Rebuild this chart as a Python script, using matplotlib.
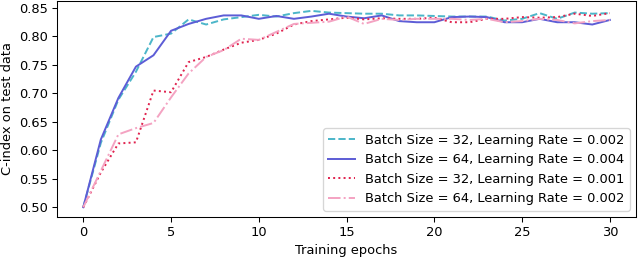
import numpy as np
import matplotlib
matplotlib.use("Agg")
import matplotlib.pyplot as plt

epochs = np.arange(31)

# C-index per epoch
bs32_lr002 = [0.500, 0.613, 0.689, 0.738, 0.799, 0.805, 0.830, 0.821, 0.830, 0.834,
              0.838, 0.835, 0.841, 0.845, 0.842, 0.841, 0.840, 0.840, 0.837, 0.837,
              0.836, 0.835, 0.835, 0.835, 0.828, 0.831, 0.841, 0.831, 0.842, 0.840,
              0.841]
bs64_lr004 = [0.500, 0.619, 0.692, 0.747, 0.767, 0.810, 0.822, 0.831, 0.837, 0.837,
              0.831, 0.836, 0.831, 0.835, 0.840, 0.835, 0.832, 0.837, 0.827, 0.825,
              0.825, 0.834, 0.835, 0.834, 0.825, 0.825, 0.831, 0.825, 0.825, 0.821,
              0.829]
bs32_lr001 = [0.500, 0.561, 0.612, 0.614, 0.705, 0.702, 0.755, 0.764, 0.777, 0.789,
              0.794, 0.805, 0.821, 0.827, 0.830, 0.833, 0.830, 0.832, 0.831, 0.831,
              0.833, 0.825, 0.825, 0.831, 0.831, 0.834, 0.833, 0.834, 0.840, 0.836,
              0.841]
bs64_lr002 = [0.500, 0.564, 0.628, 0.639, 0.648, 0.693, 0.735, 0.764, 0.776, 0.796,
              0.794, 0.808, 0.822, 0.824, 0.826, 0.835, 0.822, 0.831, 0.829, 0.831,
              0.831, 0.831, 0.829, 0.831, 0.825, 0.827, 0.831, 0.829, 0.823, 0.827,
              0.829]

labels = ["Batch Size = 32, Learning Rate = 0.002",
          "Batch Size = 64, Learning Rate = 0.004",
          "Batch Size = 32, Learning Rate = 0.001",
          "Batch Size = 64, Learning Rate = 0.002"]

# reference looks like a default figure rendered slightly smaller -> dpi 94
DPI = 94
fig, ax = plt.subplots(figsize=(640 / DPI, 259 / DPI), dpi=DPI)
fig.subplots_adjust(left=0.089, right=0.994, top=0.996, bottom=0.162)

ax.plot(epochs, bs32_lr002, color="#4cb6c9", linestyle="--", label=labels[0])
ax.plot(epochs, bs64_lr004, color="#5d5dd6", linestyle="-", label=labels[1])
ax.plot(epochs, bs32_lr001, color="#e0224e", linestyle=":", label=labels[2])
ax.plot(epochs, bs64_lr002, color="#f4a3c2", linestyle="-.", label=labels[3])

ax.set_xticks([0, 5, 10, 15, 20, 25, 30])
ax.set_yticks([0.50, 0.55, 0.60, 0.65, 0.70, 0.75, 0.80, 0.85])
ax.set_xlabel("Training epochs")
ax.set_ylabel("C-index on test data")
ax.legend(loc="lower right")

fig.savefig("out.png", dpi=DPI)
